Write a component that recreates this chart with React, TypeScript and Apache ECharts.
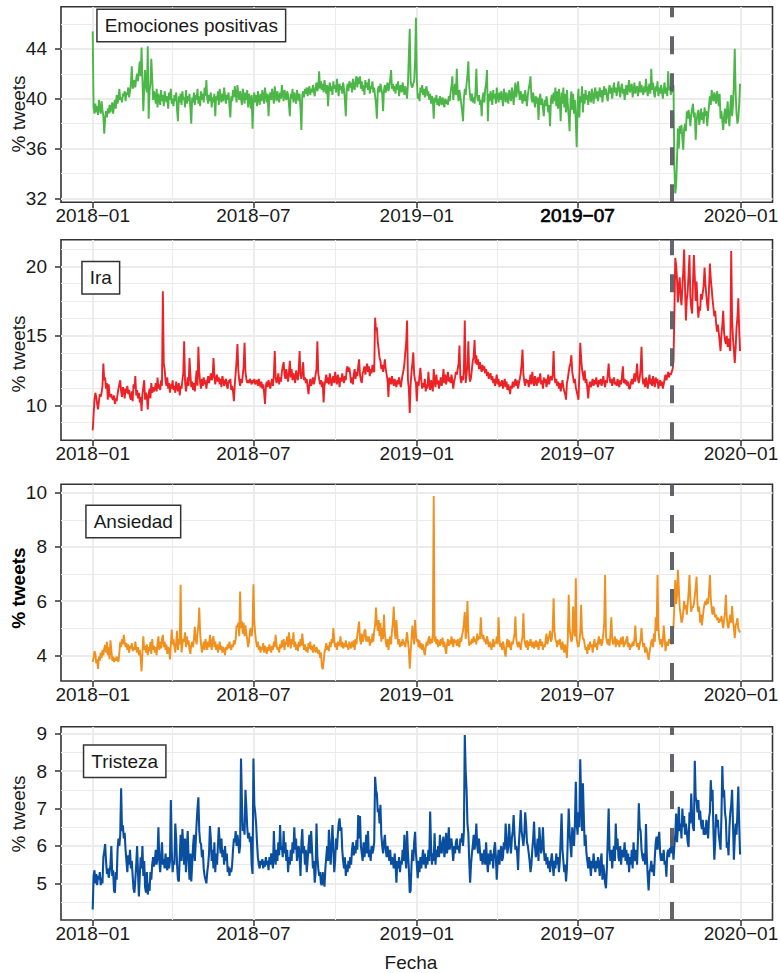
import React, { useEffect, useRef } from "react";
import * as echarts from "echarts";

// ---------- data (daily values, 2018-01-01 .. 2019-12-31) ----------
const startDate = "2018-01-01";
const eventDate = "2019-10-15";

const positivas = [
45.4,39.3,38.8,39.6,38.9,39.4,38.7,39.9,39.2,38.8,
39.8,39.1,38.6,37.2,38.4,39.0,38.5,39.2,38.8,39.5,
38.9,39.3,39.7,38.8,39.4,39.9,39.2,40.3,39.6,40.0,
40.8,39.9,40.1,39.7,40.4,40.2,40.6,39.8,40.5,40.3,
40.9,40.1,40.6,41.2,42.6,40.8,41.0,41.5,40.9,41.6,
42.0,41.4,42.2,43.0,41.8,44.1,41.5,39.0,40.8,42.3,
41.0,40.5,44.2,38.4,40.6,41.2,43.2,41.6,39.9,40.6,
40.2,39.6,40.8,39.3,40.4,40.0,39.5,40.7,39.8,40.3,
39.4,40.6,40.1,39.7,40.2,39.2,40.5,39.9,40.8,39.6,
40.0,39.4,40.3,39.8,40.5,39.1,38.2,40.2,39.7,40.4,
39.5,40.6,39.9,40.1,39.3,40.7,39.6,40.2,39.8,40.4,
39.2,38.0,40.1,39.7,40.5,39.5,40.3,39.9,40.8,39.6,
40.2,39.4,40.6,39.9,40.4,39.7,40.9,40.2,41.5,40.0,
39.6,40.3,39.8,40.5,39.3,40.1,39.7,40.4,38.6,40.2,
39.9,40.6,39.5,40.8,40.1,39.7,40.4,39.8,40.9,40.2,
39.6,40.3,39.9,40.5,39.4,38.5,40.2,39.8,40.7,40.1,
41.0,40.4,39.7,41.1,40.3,39.9,40.6,40.0,39.5,40.8,
40.2,39.6,40.5,39.9,40.7,39.3,40.4,40.0,39.2,40.3,
37.6,39.8,40.5,39.7,40.3,39.4,40.6,40.0,39.5,40.4,
39.8,40.7,40.1,39.6,40.9,40.2,39.7,40.4,38.6,40.1,
40.5,39.9,40.8,40.2,39.6,41.0,40.3,39.8,40.6,40.1,
39.7,40.5,40.0,41.1,40.4,39.8,40.7,40.2,39.9,40.6,
40.3,39.5,38.6,40.4,40.0,40.8,39.7,40.5,40.1,39.6,
40.7,40.2,39.8,40.4,39.2,37.5,40.3,40.6,40.1,40.8,
40.4,40.9,40.2,40.7,41.0,40.3,40.8,40.5,41.1,40.6,
40.2,40.9,41.3,40.6,41.0,42.2,40.8,41.4,40.7,41.2,
40.5,41.5,40.9,40.4,41.1,39.4,40.8,41.3,40.6,41.0,
40.3,41.4,40.8,41.1,40.5,41.6,40.9,40.2,41.2,40.7,
41.0,40.4,41.3,40.8,39.9,38.6,40.7,41.2,40.6,41.4,
40.9,41.3,40.5,41.6,41.0,40.7,41.5,41.8,40.9,41.7,
41.2,41.8,40.8,41.4,40.6,41.1,40.3,41.5,40.9,41.3,
40.7,41.6,40.4,41.0,40.8,41.4,40.5,40.9,40.2,39.6,
38.4,40.6,41.0,40.5,41.2,40.8,40.4,39.0,40.7,41.1,
40.5,40.9,41.3,40.6,41.0,41.5,42.3,40.8,41.2,40.6,
41.0,40.4,41.2,40.7,41.4,40.2,40.9,41.1,40.5,41.3,
40.8,40.3,41.0,40.6,40.0,41.2,43.5,45.6,41.5,41.0,
40.9,41.2,41.4,43.0,46.5,41.5,40.0,40.4,39.8,40.9,
40.5,41.1,40.3,40.8,40.1,40.7,41.0,40.2,40.6,39.9,
40.4,39.6,40.2,39.9,38.4,40.1,39.7,40.3,39.5,40.0,
39.4,40.2,39.8,39.5,40.1,39.7,39.3,40.0,39.6,39.9,
39.5,40.2,39.8,40.5,41.0,41.8,39.9,40.6,41.2,40.3,
42.4,40.5,39.8,40.7,40.2,39.6,39.0,38.2,40.0,40.8,
40.3,41.2,41.9,43.0,41.0,40.2,39.8,40.4,39.7,40.1,
39.6,40.5,42.4,40.2,39.8,40.3,39.5,39.9,38.6,40.1,
40.5,39.7,40.8,41.2,42.3,38.2,40.4,39.8,40.6,40.1,
39.5,40.7,40.0,40.4,39.6,40.9,40.2,39.7,40.5,39.9,
40.6,40.1,39.4,40.8,40.3,39.7,40.5,40.0,39.6,40.7,
40.2,39.8,40.9,40.4,39.5,40.6,41.3,40.1,40.7,41.4,
40.5,39.9,40.6,40.1,39.6,40.4,39.8,40.7,40.0,39.4,
40.3,40.8,41.2,41.8,40.1,39.7,40.5,39.9,39.3,40.2,
39.6,40.1,38.3,39.8,40.4,39.5,40.0,39.2,38.6,39.9,
39.4,40.2,39.7,38.9,39.5,37.8,39.9,40.3,39.6,40.5,
39.8,40.9,39.4,40.6,39.2,40.8,39.7,38.2,40.5,39.6,
40.9,39.3,40.4,38.9,40.7,39.5,38.6,37.4,39.8,40.6,
39.1,40.4,38.8,39.9,38.2,36.1,39.6,40.8,38.5,40.2,
39.7,41.0,38.9,40.4,39.6,40.7,39.9,40.3,39.5,40.6,
40.1,39.7,40.8,40.2,39.6,40.5,40.9,40.0,40.6,39.8,
40.4,40.9,40.1,40.7,39.7,40.5,41.0,40.3,40.8,40.2,
39.8,40.6,41.1,40.4,40.9,40.0,40.7,41.3,40.5,40.9,
40.2,40.8,41.4,40.6,40.1,40.9,41.2,40.4,40.8,39.9,
40.6,41.1,40.3,40.9,41.5,40.5,40.8,41.2,40.1,40.7,
41.3,40.4,40.9,41.0,40.2,40.7,41.4,40.5,41.1,40.6,
40.3,41.0,40.5,41.6,40.8,40.2,40.9,41.2,40.4,42.4,
40.7,41.3,40.5,40.1,41.0,40.6,41.4,40.2,40.9,40.4,
41.1,40.6,40.0,40.8,41.3,40.4,40.9,40.2,42.2,40.7,
41.0,40.3,40.9,40.5,41.1,34.5,32.4,33.0,35.2,37.6,
36.0,37.8,37.2,37.9,36.8,35.9,37.6,38.0,37.4,39.0,
38.4,39.1,38.6,37.8,38.7,39.2,39.6,38.5,38.9,36.7,
38.2,38.8,39.1,37.9,38.5,39.2,38.3,38.9,38.0,39.3,
38.6,39.0,37.8,38.7,39.4,40.2,39.5,40.7,40.1,39.8,
40.5,40.0,39.6,40.6,40.2,39.4,40.4,38.4,39.0,38.2,
37.5,38.6,39.2,38.0,38.8,39.8,38.4,37.8,39.4,40.3,
38.6,39.5,41.2,44.0,40.5,38.8,38.0,38.4,39.6,41.2
];

const ira = [
8.2,9.3,10.4,10.9,10.6,10.1,9.7,10.3,10.8,10.6,
10.9,11.4,13.0,11.8,12.0,11.2,11.6,10.4,11.5,10.7,
10.6,10.8,10.5,10.4,10.7,10.1,10.5,10.3,10.8,11.2,
11.5,11.8,11.0,10.6,11.3,11.1,10.5,11.2,10.9,11.4,
10.8,11.1,10.6,10.4,11.0,10.3,11.5,11.2,12.1,10.7,
11.1,10.5,10.9,10.2,10.6,9.6,10.8,11.3,11.8,10.4,
10.9,10.6,9.7,10.8,11.2,10.5,11.6,10.9,11.3,11.0,
11.2,11.6,11.0,12.0,11.2,11.5,11.1,11.8,11.4,18.2,
13.0,12.6,11.8,11.4,12.0,11.2,11.6,10.9,11.5,11.2,
11.8,11.1,11.4,10.9,11.7,11.3,11.0,11.6,10.7,11.4,
11.2,11.8,12.3,14.6,11.7,11.0,11.5,12.0,11.4,13.4,
12.2,11.3,11.7,11.1,11.6,11.0,11.8,12.5,11.4,14.2,
12.4,11.6,11.2,11.9,11.4,12.0,11.5,11.8,11.2,11.7,
12.1,11.6,11.9,12.3,11.8,12.0,13.4,12.2,11.5,11.9,
12.2,11.7,12.0,11.5,11.9,11.3,12.1,11.8,11.4,11.7,
11.9,11.4,11.2,11.8,11.6,11.9,11.1,11.4,11.0,10.3,
11.5,12.3,13.2,14.4,12.5,11.8,11.4,11.9,11.6,12.2,
12.8,14.5,12.4,11.9,11.6,11.8,11.6,11.9,11.7,11.5,
11.8,11.6,11.9,11.5,11.7,11.8,11.4,11.9,11.6,11.3,
11.7,11.2,11.5,10.9,10.1,11.4,11.7,11.3,11.8,11.5,
11.2,11.6,11.9,11.4,12.2,13.9,12.0,11.6,11.8,12.3,
11.5,12.0,11.7,12.4,12.8,13.1,12.2,11.9,12.6,12.1,
11.7,12.4,13.2,12.0,12.6,11.8,12.3,12.0,11.6,12.5,
12.1,11.8,12.6,13.9,12.2,11.9,12.4,13.1,11.8,12.0,
11.6,11.9,11.3,10.8,11.5,11.9,11.4,11.7,12.0,11.5,
11.8,12.2,12.6,14.6,12.3,11.9,11.5,11.8,11.3,11.7,
10.2,11.4,11.8,12.2,11.6,12.0,11.5,12.3,11.8,11.4,
11.9,12.1,11.6,12.4,11.8,11.5,12.2,11.9,11.3,12.0,
11.7,12.3,11.9,11.6,12.1,11.8,12.6,12.8,12.4,12.7,
12.2,11.6,12.0,11.5,12.2,12.6,11.9,12.4,12.1,12.8,
13.3,12.2,11.8,11.6,12.3,12.5,12.8,12.2,12.6,13.0,
12.4,12.8,12.1,12.6,12.3,12.9,12.5,12.4,16.3,15.4,
15.6,14.6,14.0,13.4,13.2,12.6,12.9,12.4,12.8,13.3,
12.6,12.2,11.8,10.6,12.0,11.8,11.5,12.1,11.7,11.4,
11.9,11.6,11.3,11.8,11.5,12.0,11.6,11.3,11.8,12.2,
12.5,13.0,13.8,14.5,16.1,11.8,11.2,9.45,11.5,12.4,
13.0,13.8,12.2,11.8,11.6,10.3,11.7,11.4,12.1,12.7,
11.8,11.2,11.6,11.3,11.9,11.0,11.5,11.2,12.4,11.6,
11.1,11.8,11.4,11.0,12.6,11.7,11.3,12.2,11.5,11.8,
11.2,11.6,12.0,11.4,11.8,12.6,11.6,12.2,11.5,11.9,
12.4,11.7,12.0,11.6,12.2,11.8,11.2,11.7,12.0,12.4,
12.2,12.6,13.0,14.3,12.0,11.6,12.1,11.8,12.6,16.1,
11.6,12.3,12.8,14.6,12.2,11.7,12.0,12.6,13.2,13.5,
14.7,13.0,13.6,12.9,13.3,12.6,13.1,12.7,12.4,12.9,
12.5,12.8,12.3,12.6,12.1,12.4,11.9,12.2,12.3,11.8,
12.1,11.6,11.9,11.4,11.8,12.2,11.5,11.9,11.3,11.7,
11.4,11.8,11.2,11.6,11.9,11.3,11.7,11.1,11.5,11.2,
10.8,11.4,11.2,11.7,11.3,11.6,11.9,11.4,11.8,11.2,
11.6,11.9,12.3,13.0,14.0,12.2,11.7,11.4,11.9,11.6,
11.8,11.3,11.7,12.2,11.5,12.4,11.8,11.4,12.1,11.7,
11.4,12.0,11.6,11.9,12.3,11.5,11.8,11.2,12.0,11.6,
11.9,11.3,11.7,12.2,11.5,11.9,12.1,11.8,12.2,13.9,
12.0,11.6,11.9,11.4,11.7,11.2,11.6,11.0,11.4,11.8,
11.3,11.0,10.8,10.4,11.6,11.9,12.4,12.8,13.0,13.6,
12.4,12.0,11.6,11.9,11.3,11.0,10.7,10.4,12.2,14.5,
13.4,12.6,12.2,11.8,12.5,11.6,11.9,11.2,10.5,11.4,
11.7,11.3,11.6,11.9,11.4,11.8,11.5,12.0,11.6,11.3,
11.8,11.5,11.9,11.4,11.7,12.1,11.6,11.3,11.8,11.6,
12.2,13.0,12.0,11.6,11.9,11.4,11.8,12.0,11.5,11.7,
11.4,11.9,11.6,11.3,11.8,11.5,12.1,12.8,11.6,11.9,
11.5,11.8,11.4,11.7,11.2,11.2,11.6,11.9,11.5,11.8,
12.3,11.7,12.2,13.0,11.9,11.6,12.0,12.6,14.2,12.1,
11.5,11.9,11.3,12.0,11.6,11.2,11.8,12.2,11.5,11.9,
11.4,12.1,11.7,11.3,12.0,11.6,11.9,11.2,11.6,11.8,
11.4,11.7,11.2,11.5,11.9,12.2,11.8,12.1,12.4,12.0,
12.3,12.2,12.4,12.6,13.2,16.5,20.6,20.1,19.0,17.4,
18.6,19.2,17.8,17.2,18.5,19.6,21.2,18.4,16.1,17.6,
18.2,19.4,20.8,17.8,17.0,16.6,18.9,20.8,19.2,17.5,
18.9,17.4,16.3,17.1,16.8,18.0,17.6,18.1,18.6,19.9,
18.7,17.9,17.2,16.8,18.4,20.2,19.1,18.4,17.6,17.0,
16.4,16.8,15.9,15.3,15.8,15.2,14.6,13.9,15.1,15.8,
16.8,15.2,14.7,14.4,15.0,14.2,14.8,14.3,13.9,21.1,
16.2,14.8,14.0,13.05,14.1,15.6,16.3,17.7,15.4,13.9
];

const ansiedad = [
3.75,3.9,4.15,4.05,3.7,3.85,3.5,3.95,3.8,4.1,
3.9,4.2,4.0,4.25,4.38,4.1,4.5,4.0,4.3,3.85,
4.55,4.2,3.8,3.95,3.75,3.9,3.8,3.95,3.85,3.75,
4.1,4.5,4.3,4.6,4.4,4.75,4.5,4.3,4.45,4.2,
4.4,4.1,4.35,4.25,4.45,4.15,4.3,4.2,4.5,4.25,
4.1,4.3,4.0,4.2,3.9,3.4,4.1,4.7,4.2,4.35,
4.1,4.4,4.0,4.3,4.15,4.5,4.05,4.6,4.2,4.35,
4.1,4.3,4.0,4.45,4.7,4.2,4.5,4.25,4.6,4.75,
4.3,4.5,4.2,4.4,4.05,4.3,4.2,3.85,4.4,4.95,
4.4,4.6,4.3,4.1,4.5,4.9,4.2,4.6,4.4,6.6,
4.1,4.4,4.6,4.5,4.85,4.3,4.7,4.4,4.55,4.2,
4.05,4.4,4.5,4.3,4.6,5.05,4.6,4.4,4.8,5.1,
5.76,4.8,4.4,4.1,4.3,4.5,4.2,4.6,4.4,4.2,
4.5,4.3,4.75,4.4,4.2,4.6,4.7,4.3,4.5,4.2,
4.4,4.1,4.3,4.5,4.2,4.35,4.1,4.3,4.2,4.0,
4.3,4.2,4.4,4.25,4.5,4.3,4.2,4.4,4.3,4.55,
4.4,4.6,5.1,5.05,5.2,4.7,6.35,5.0,5.25,4.8,
5.2,4.7,5.1,4.8,4.6,4.3,4.5,4.9,5.0,4.7,
5.1,6.62,5.24,4.8,4.5,4.3,4.5,4.2,4.35,4.1,
4.3,4.2,4.45,4.1,4.35,4.2,4.05,4.3,4.15,4.4,
4.25,4.1,4.35,4.2,4.5,4.3,4.75,4.4,4.2,4.3,
4.1,4.4,4.25,4.55,4.3,4.6,4.2,4.5,4.4,4.7,
4.3,4.85,4.5,4.25,4.6,4.4,4.85,4.3,4.5,4.2,
4.4,4.15,4.5,4.3,4.6,4.35,4.8,4.45,4.2,4.4,
4.15,4.3,4.1,4.45,4.25,4.5,4.2,4.35,4.1,4.4,
4.25,4.1,4.3,4.2,4.05,4.2,3.9,4.1,3.6,3.48,
3.75,4.1,4.25,4.45,4.2,4.35,4.15,4.5,4.3,4.6,
4.45,5.0,4.55,4.3,4.45,4.2,4.5,4.35,4.4,4.7,
4.3,4.5,4.25,4.45,4.3,4.55,4.3,4.4,4.2,4.5,
4.35,4.25,4.5,4.3,4.55,4.2,4.6,4.4,4.75,5.0,
5.24,4.6,4.4,4.8,4.5,4.6,4.9,4.95,4.5,4.7,
4.5,4.7,4.35,4.6,4.45,4.8,4.5,4.9,5.1,5.76,
5.2,4.9,5.3,4.7,5.2,4.5,5.0,4.6,5.5,4.8,
4.5,4.3,4.6,4.2,4.5,4.7,4.4,4.9,5.2,5.8,
4.9,4.6,5.3,4.8,4.4,4.6,4.3,4.5,4.35,4.6,
4.4,4.5,4.3,4.6,4.85,4.5,4.2,3.5,4.1,4.6,
5.1,4.7,4.4,5.3,4.8,4.5,4.6,4.3,4.55,4.25,
4.45,4.2,4.4,4.15,4.0,4.3,4.5,4.35,4.6,4.7,
4.4,4.6,4.45,4.75,9.88,4.5,4.7,4.4,4.6,4.3,
4.55,4.35,4.6,4.4,4.65,4.3,4.5,4.25,4.05,4.4,
4.6,4.35,4.55,4.4,4.7,4.5,4.3,4.6,4.45,4.55,
4.35,4.6,4.4,4.3,4.65,4.5,4.75,4.9,5.2,5.6,
4.6,5.0,6.0,4.8,4.35,4.5,4.4,4.6,4.45,4.7,
4.5,4.6,4.4,4.8,4.55,4.7,4.6,5.4,4.8,4.6,
4.75,4.5,4.6,4.4,4.7,4.55,4.3,4.5,4.4,4.2,
4.4,4.6,4.3,4.5,4.45,4.7,4.4,5.4,4.6,4.3,
4.45,4.2,4.5,4.35,4.1,3.95,4.4,4.6,4.3,4.55,
4.3,4.2,4.5,4.4,4.6,4.8,5.43,4.6,4.4,4.3,
4.5,4.35,4.2,4.5,4.7,5.55,4.6,4.4,4.3,4.55,
4.2,4.5,4.35,4.6,4.4,4.3,4.5,4.25,4.4,4.55,
4.3,4.5,4.2,4.45,4.6,4.35,4.5,4.2,4.4,4.3,
4.55,4.8,4.4,4.6,4.7,4.9,4.5,4.6,5.0,6.1,
4.9,4.6,4.5,4.3,4.55,4.4,4.6,4.35,4.2,4.5,
4.3,4.1,4.4,4.2,3.9,4.6,6.23,5.0,4.7,4.5,
4.6,5.8,4.9,4.7,6.84,4.6,4.4,4.3,4.5,4.8,
5.86,4.9,4.6,4.6,4.4,4.2,4.3,4.05,4.4,4.2,
4.5,4.3,4.4,4.1,4.35,4.6,4.3,4.45,4.2,4.5,
4.7,4.4,4.6,4.35,4.5,4.8,5.2,6.96,4.7,4.5,
4.4,4.6,4.35,4.8,5.4,4.6,4.4,4.5,4.7,4.3,
4.6,4.4,4.55,4.3,4.5,4.65,4.4,4.7,4.3,4.5,
4.4,4.6,4.7,4.3,4.45,4.2,4.4,4.3,4.5,4.35,
4.6,5.1,4.5,4.3,4.45,4.2,4.4,4.6,5.0,4.5,
4.3,4.45,4.1,4.3,4.2,4.0,3.83,4.1,4.3,4.5,
4.6,4.3,4.8,4.5,5.4,4.9,6.96,5.0,4.6,4.4,
4.6,4.3,4.5,5.1,4.7,4.15,4.4,4.5,4.35,4.6,
4.45,4.5,4.4,4.7,5.1,5.8,6.78,5.9,6.2,7.15,
6.5,5.75,5.5,5.2,5.3,5.6,6.0,5.7,5.85,5.5,
5.9,6.3,6.96,6.1,5.6,5.8,5.75,5.9,6.2,6.5,
6.9,5.9,5.6,5.8,5.2,5.5,5.1,5.4,5.7,5.9,
6.0,5.85,6.1,5.9,6.3,6.96,6.1,5.7,5.5,5.8,
5.6,5.4,5.5,5.3,5.4,5.2,5.35,5.25,5.45,5.2,
5.0,5.3,5.6,6.23,5.4,5.1,5.0,5.3,5.5,5.2,
5.82,5.3,5.0,4.63,5.1,5.2,5.37,5.0,4.9,4.84
];

const tristeza = [
4.3,5.2,5.35,5.0,5.25,4.95,5.2,5.1,5.3,4.95,
5.15,5.0,5.7,5.85,6.05,5.6,5.25,5.4,5.15,5.3,
5.5,6.0,5.2,5.35,4.8,4.75,5.3,5.1,5.9,6.2,
6.0,6.3,7.54,6.4,6.55,6.2,6.35,5.9,5.6,5.3,
5.75,5.5,5.9,5.4,5.6,5.2,4.85,4.75,5.1,5.5,
6.0,5.3,4.65,5.2,5.7,5.4,6.0,5.2,5.6,4.9,
4.75,5.3,4.7,5.0,4.8,5.3,5.1,5.5,5.7,5.45,
5.6,5.9,5.5,5.75,6.5,5.6,5.3,5.7,6.1,5.5,
5.65,5.4,5.8,5.5,5.35,5.7,5.4,5.6,7.23,5.9,
5.3,5.6,5.5,6.6,6.2,5.5,5.1,5.05,5.7,6.3,
5.6,6.45,6.0,5.5,6.2,5.3,5.9,6.4,5.6,5.1,
5.8,5.05,5.5,6.0,6.3,5.6,6.1,6.6,7.0,7.3,
6.4,6.1,6.05,5.7,5.9,5.4,5.2,5.1,5.0,5.3,
5.5,5.8,6.53,6.2,5.6,5.9,5.4,6.1,5.3,5.8,
5.5,6.0,6.5,6.1,5.8,6.2,5.7,5.9,5.5,6.0,
5.6,5.8,5.3,5.45,5.2,5.4,5.3,5.5,5.9,6.2,
6.1,6.4,6.0,6.3,6.1,5.8,6.0,8.34,7.2,6.4,
6.6,6.3,7.5,7.05,6.5,6.2,6.35,6.1,6.25,5.5,
5.25,8.34,7.1,6.9,6.6,6.1,5.7,5.5,5.4,5.6,
5.5,5.65,5.4,5.6,5.45,5.7,5.5,5.6,5.35,5.7,
5.5,5.8,5.6,5.4,6.4,5.7,5.5,5.9,5.6,6.1,
5.75,6.56,5.9,6.0,5.7,6.4,5.8,6.1,5.6,5.9,
5.3,5.7,5.5,5.9,5.6,6.1,5.8,6.5,5.9,6.2,
5.6,5.8,6.0,5.7,5.2,6.1,6.45,5.8,6.0,5.5,
5.9,5.3,5.6,6.0,6.3,5.8,6.4,5.9,5.4,5.6,
5.02,5.3,6.6,5.7,5.4,5.2,5.3,5.0,4.95,5.3,
5.1,4.91,5.4,5.7,6.0,5.6,6.43,5.8,5.5,6.1,
6.56,5.9,5.3,5.6,6.2,5.9,6.3,6.6,6.74,6.4,
6.5,5.9,5.6,5.4,5.7,5.2,5.5,5.3,5.6,5.4,
5.7,5.5,5.9,6.1,5.75,6.0,5.8,6.16,5.9,6.83,
6.2,6.8,6.0,5.8,5.6,6.1,5.7,5.9,6.3,5.8,
6.4,5.7,5.9,5.6,6.0,5.8,5.9,6.1,7.85,7.5,
7.4,6.9,7.0,6.6,7.1,6.3,6.0,5.8,6.1,6.3,
5.9,5.7,6.0,5.8,5.6,5.9,5.5,5.7,5.6,5.4,
5.8,5.5,5.02,5.6,5.4,5.7,5.3,5.6,5.5,5.9,
5.6,6.3,5.7,5.4,6.4,5.8,5.4,4.75,4.8,5.5,
5.9,5.6,6.1,6.38,5.8,5.5,5.14,5.6,5.3,5.7,
5.4,5.65,5.9,5.5,5.8,5.4,5.7,5.5,5.9,5.6,
6.92,6.0,5.5,5.8,5.6,6.34,5.5,5.9,5.7,6.0,
5.7,6.3,5.9,5.8,6.1,6.25,5.7,5.9,6.35,5.8,
6.0,6.5,5.9,6.1,6.2,5.9,5.6,6.0,5.8,6.1,
6.2,5.9,6.0,5.8,6.2,6.1,6.34,6.0,6.4,8.97,
8.0,7.5,6.6,6.34,5.6,5.02,5.5,5.8,6.0,6.3,
5.9,6.1,6.6,6.0,5.8,6.2,5.9,5.6,5.8,5.5,
5.7,5.9,5.5,6.1,5.6,5.3,5.8,5.5,5.9,5.6,
5.8,5.4,5.9,6.1,5.7,5.1,5.6,5.9,5.5,5.8,
6.0,5.6,5.7,6.1,5.9,6.6,6.2,5.8,6.0,6.59,
6.1,5.8,6.2,6.4,6.83,6.3,5.9,6.0,5.8,5.36,
6.1,6.5,6.96,6.4,6.2,6.0,6.3,6.9,6.6,6.1,
6.0,5.8,5.6,5.3,5.5,5.9,6.2,6.65,6.0,5.7,
5.9,6.2,5.6,6.5,6.1,5.8,6.0,6.5,5.9,5.6,
5.8,5.5,5.7,5.4,5.6,5.3,5.6,5.8,5.5,5.2,
5.6,5.4,5.8,5.5,5.7,5.3,5.6,6.2,6.87,5.9,
5.6,5.3,5.5,5.05,5.4,6.2,7.0,6.4,6.0,5.7,
6.5,6.2,6.0,6.6,7.72,6.6,6.3,6.9,6.5,8.32,
7.23,6.4,7.68,6.8,6.0,6.3,5.8,5.6,5.4,5.7,
5.5,5.2,5.6,5.4,5.8,5.5,5.3,5.6,5.4,5.7,
5.5,5.2,5.6,5.8,5.1,5.5,5.3,5.0,4.87,5.4,
6.2,7.0,5.9,5.6,5.9,5.4,5.8,6.0,5.6,6.6,
5.9,6.2,5.7,5.6,6.0,5.5,5.9,5.7,5.8,6.1,
5.6,5.9,5.5,5.8,5.3,5.7,5.5,5.9,5.4,6.1,
5.7,5.6,5.9,5.5,6.2,7.14,6.5,6.4,5.9,5.7,
5.6,5.8,5.5,6.59,5.7,5.2,4.81,5.3,5.4,5.6,
5.3,5.5,5.2,5.7,6.1,6.25,5.9,6.2,6.38,5.8,
5.6,5.8,5.6,5.9,5.5,5.6,5.18,5.8,5.9,5.7,
5.95,5.8,6.25,6.0,5.63,6.0,6.3,6.87,6.1,6.5,
7.05,6.4,6.6,6.2,7.0,6.5,6.8,6.3,6.6,6.4,
6.1,5.97,6.9,6.6,7.4,6.8,6.5,6.4,8.28,7.3,
7.2,6.9,7.23,6.7,6.95,6.6,6.45,6.7,6.3,6.5,
6.3,6.7,6.5,6.2,6.75,6.9,7.76,7.2,7.5,6.4,
5.63,6.1,6.85,6.5,6.7,6.3,6.1,5.9,6.8,8.14,
7.3,7.5,6.9,6.7,5.95,6.1,5.75,6.5,6.9,7.1,
7.5,6.6,5.63,6.2,6.6,6.3,6.9,7.59,6.55,5.77
];

const panelTitles = ["Emociones positivas", "Ira", "Ansiedad", "Tristeza"];
const panelSeries = [positivas, ira, ansiedad, tristeza];
const yTickValues = [
  [32, 36, 40, 44],
  [10, 15, 20],
  [4, 6, 8, 10],
  [5, 6, 7, 8, 9],
];
const yMinorValues = [
  [34, 38, 42, 46],
  [8.75, 11.25, 12.5, 13.75, 16.25, 17.5, 18.75, 21.25],
  [5, 7, 9],
  [4.5, 5.5, 6.5, 7.5, 8.5],
];
const xTickDates = ["2018-01-01", "2018-07-01", "2019-01-01", "2019-07-01", "2020-01-01"];
const xMinorDates = ["2018-04-01", "2018-10-01", "2019-04-01", "2019-10-01"];
const yAxisTitle = "% tweets";
const xAxisTitle = "Fecha";

// ---------- styling / layout ----------
const FONT = "'Liberation Sans', Arial, Helvetica, sans-serif";
const TEXT = "#1a1a1a";
const DAY = 86400000;
const colors = ["#4CB648", "#EC2227", "#F0901E", "#0A4F9F"];
const lineWidths = [1.9, 1.9, 1.9, 2.1];
const layout = [
  { top: 6.7, height: 195.6, yMin: 31.69, yMax: 47.38, titleY: 114, box: [97.7, 10] },
  { top: 239.7, height: 200.6, yMin: 7.48, yMax: 21.91, titleY: 354, box: [82.7, 262.3] },
  { top: 484.3, height: 196.7, yMin: 3.05, yMax: 10.31, titleY: 588, box: [86.7, 506] },
  { top: 726.7, height: 193.3, yMin: 4.02, yMax: 9.19, titleY: 814, box: [84.3, 745.7] },
];
const GRID_LEFT = 61;
const GRID_WIDTH = 711.5;

const ts = (s: string) => new Date(s + "T00:00:00Z").getTime();
const fmtMonth = (v: number) => {
  const d = new Date(v);
  return `${d.getUTCFullYear()}\u2212${String(d.getUTCMonth() + 1).padStart(2, "0")}`;
};

function buildOption() {
  const t0 = ts(startDate);
  const xMin = t0 - 35.7 * DAY;
  const xMax = t0 + 765.5 * DAY;
  const xTicks = xTickDates.map(ts);
  const xMinor = xMinorDates.map(ts);
  const ev = ts(eventDate);

  const grids: any[] = [];
  const xAxes: any[] = [];
  const yAxes: any[] = [];
  const series: any[] = [];
  const graphics: any[] = [];

  layout.forEach((p, i) => {
    grids.push({
      left: GRID_LEFT,
      width: GRID_WIDTH,
      top: p.top,
      height: p.height,
      containLabel: false,
      outerBoundsMode: "none",
      show: true,
      backgroundColor: "#ffffff",
      borderColor: "#333333",
      borderWidth: 1.6,
      z: 0,
    });
    xAxes.push({
      type: "value",
      gridIndex: i,
      min: xMin,
      max: xMax,
      axisLine: { show: false },
      splitLine: { show: false },
      axisTick: {
        show: true,
        customValues: xTicks,
        length: 6,
        lineStyle: { color: "#333333", width: 1.5 },
      },
      axisLabel: {
        show: true,
        customValues: xTicks,
        margin: 4,
        fontSize: 19,
        fontFamily: FONT,
        color: TEXT,
        formatter: (v: number) => {
          const s = fmtMonth(v);
          return i === 0 && s === "2019\u221207" ? `{b|${s}}` : s;
        },
        rich: {
          b: {
            fontSize: 19,
            fontFamily: FONT,
            color: "#000",
            textBorderColor: "#000",
            textBorderWidth: 0.7,
          },
        },
      },
    });
    yAxes.push({
      type: "value",
      gridIndex: i,
      min: p.yMin,
      max: p.yMax,
      axisLine: { show: false },
      splitLine: { show: false },
      axisTick: {
        show: true,
        customValues: yTickValues[i],
        length: 6,
        lineStyle: { color: "#333333", width: 1.5 },
      },
      axisLabel: {
        show: true,
        customValues: yTickValues[i],
        margin: 14,
        fontSize: 19,
        fontFamily: FONT,
        color: TEXT,
      },
    });

    const gridLines: any[] = [];
    yMinorValues[i].forEach((v) =>
      gridLines.push({ coords: [[xMin, v], [xMax, v]], lineStyle: { width: 1.1 } })
    );
    yTickValues[i].forEach((v) =>
      gridLines.push({ coords: [[xMin, v], [xMax, v]], lineStyle: { width: 1.8 } })
    );
    xMinor.forEach((t) =>
      gridLines.push({ coords: [[t, p.yMin], [t, p.yMax]], lineStyle: { width: 1.1 } })
    );
    xTicks.forEach((t) =>
      gridLines.push({ coords: [[t, p.yMin], [t, p.yMax]], lineStyle: { width: 1.8 } })
    );

    series.push({
      type: "lines",
      coordinateSystem: "cartesian2d",
      xAxisIndex: i,
      yAxisIndex: i,
      silent: true,
      z: 1,
      lineStyle: { color: "#EBEBEB", opacity: 1 },
      data: gridLines,
    });

    series.push({
      type: "line",
      name: panelTitles[i],
      xAxisIndex: i,
      yAxisIndex: i,
      data: panelSeries[i].map((v, k) => [t0 + k * DAY, v]),
      showSymbol: false,
      symbol: "none",
      silent: true,
      z: 3,
      lineStyle: { color: colors[i], width: lineWidths[i] },
      itemStyle: { color: colors[i] },
      emphasis: { disabled: true },
      markLine: {
        silent: true,
        symbol: ["none", "none"],
        label: { show: false },
        emphasis: { disabled: true },
        lineStyle: { color: "#5a5d66", width: 4, type: [18, 19], opacity: 0.95 },
        data: [{ xAxis: ev }],
      },
    });

    graphics.push({
      type: "text",
      x: p.box[0],
      y: p.box[1],
      z: 10,
      style: {
        text: panelTitles[i],
        font: `19px ${FONT}`,
        fill: TEXT,
        align: "left",
        verticalAlign: "top",
        lineHeight: 19,
        backgroundColor: "#ffffff",
        borderColor: "#333333",
        borderWidth: 1.5,
        padding: [6, 7, 6, 7],
      },
    });

    graphics.push({
      type: "text",
      x: 18,
      y: p.titleY,
      rotation: Math.PI / 2,
      style: {
        text: yAxisTitle,
        font: `${i === 2 ? "bold " : ""}19px ${FONT}`,
        fill: i === 2 ? "#000" : TEXT,
        align: "center",
        verticalAlign: "middle",
      },
    });
  });

  graphics.push({
    type: "text",
    x: 411,
    y: 962.5,
    style: {
      text: xAxisTitle,
      font: `19px ${FONT}`,
      fill: TEXT,
      align: "center",
      verticalAlign: "middle",
    },
  });

  return {
    animation: false,
    backgroundColor: "#ffffff",
    grid: grids,
    xAxis: xAxes,
    yAxis: yAxes,
    series,
    graphic: graphics,
  };
}

export default function App() {
  const ref = useRef<HTMLDivElement>(null);
  useEffect(() => {
    if (!ref.current) return;
    const chart = echarts.init(ref.current, null, { renderer: "svg" });
    chart.setOption(buildOption() as any);
    return () => chart.dispose();
  }, []);
  return (
    <div
      ref={ref}
      style={{ position: "absolute", left: 0, top: 0, width: 780, height: 973 }}
    />
  );
}
